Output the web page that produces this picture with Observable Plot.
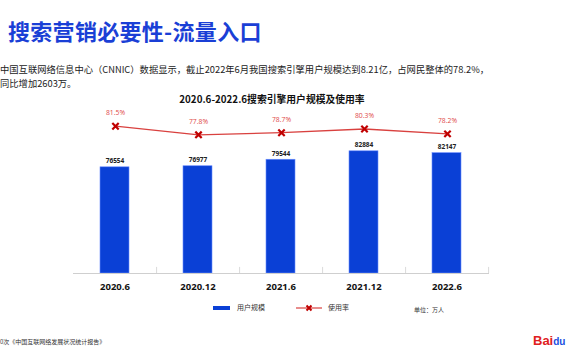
<!DOCTYPE html>
<html>
<head>
<meta charset="utf-8">
<script src="https://cdn.jsdelivr.net/npm/d3@7"></script>
<script src="https://cdn.jsdelivr.net/npm/@observablehq/plot@0.6"></script>
<style>
  html, body { margin: 0; padding: 0; background: #fff; }
  #wrap { position: relative; width: 570px; height: 360px; overflow: hidden; background: #fff;
          font-family: "Open Sans", "Noto Sans CJK SC", sans-serif; }
  .abs { position: absolute; white-space: nowrap; }
  #title { left: 8px; top: 14px; font-size: 22px; font-weight: bold; color: #1a3fd6;
           font-family: "Noto Sans CJK SC", sans-serif; letter-spacing: 0.3px; }
  #sub { left: 0px; top: 62px; font-size: 9.3px; line-height: 14px; color: #222;
         font-family: "Noto Sans CJK SC", sans-serif; }
  #ctitle { left: 0; width: 544px; text-align: center; top: 92px; font-size: 9.8px; font-weight: bold; color: #111;
            font-family: "Noto Sans CJK SC", sans-serif; }
  #caption { left: 0; top: 337px; font-size: 6px; color: #333; font-family: "Noto Sans CJK SC", sans-serif; }
  .leg { font-size: 7px; color: #333; font-family: "Noto Sans CJK SC", sans-serif; }
  #logo { left: 533px; top: 333px; font-family: "Liberation Sans", sans-serif; font-weight: bold; font-size: 13px; }
  svg.layer { position: absolute; left: 0; top: 0; max-width: none; }
</style>
</head>
<body>
<div id="wrap">
  <div id="chart"></div>
  <div id="title" class="abs">搜索营销必要性-流量入口</div>
  <div id="sub" class="abs">中国互联网络信息中心（CNNIC）数据显示，截止2022年6月我国搜索引擎用户规模达到8.21亿，占网民整体的78.2%，<br>同比增加2603万。</div>
  <div id="ctitle" class="abs">2020.6-2022.6搜索引擎用户规模及使用率</div>
  <div class="abs" style="left:213px; top:306px; width:17px; height:4px; background:#0a40d6;"></div>
  <div class="abs leg" style="left:237px; top:302px;">用户规模</div>
  <svg class="abs" style="left:296px; top:303px;" width="26" height="10">
    <line x1="0" y1="5" x2="26" y2="5" stroke="#d9413f" stroke-width="1.2"/>
    <path d="M10.5,2.5L15.5,7.5M15.5,2.5L10.5,7.5" stroke="#c00000" stroke-width="2"/>
  </svg>
  <div class="abs leg" style="left:328px; top:302px;">使用率</div>
  <div class="abs leg" style="left:414px; top:305px; font-size:6px;">单位：万人</div>
  <div id="caption" class="abs">0次《中国互联网络发展状况统计报告》</div>
  <div id="logo" class="abs"><span style="color:#e02020">Bai</span><span style="color:#1a4fe0; font-size:10px;">du</span></div>
</div>
<script>
const categories = ["2020.6", "2020.12", "2021.6", "2021.12", "2022.6"];
const users = [76554, 76977, 79544, 82884, 82147];
const rates = [81.5, 77.8, 78.7, 80.3, 78.2];
const rateLabels = ["81.5%", "77.8%", "78.7%", "80.3%", "78.2%"];

const data = categories.map((c, i) => ({cat: c, users: users[i], rate: rates[i], rateLabel: rateLabels[i]}));

const W = 570, H = 360;
const xOpts = {domain: categories, paddingInner: 0.65, paddingOuter: 0.325, align: 0.5};
const yBase = 34600;

const bars = Plot.plot({
  width: W, height: H,
  marginLeft: 73, marginRight: 81, marginTop: 109, marginBottom: 87,
  x: {...xOpts, label: null},
  y: {domain: [yBase, 99400], axis: null},
  style: {fontFamily: "'Open Sans', 'Noto Sans CJK SC', sans-serif", background: "transparent"},
  marks: [
    Plot.barY(data, {x: "cat", y1: yBase, y2: "users", fill: "#0a40d6", stroke: "#6a8cff", strokeWidth: 0.6}),
    Plot.ruleY([yBase], {stroke: "#cfcfcf", strokeWidth: 1}),
    Plot.ruleX(data, {x: "cat", dx: 41.6, y1: yBase, y2: yBase + 2400, stroke: "#cfcfcf", strokeWidth: 0.8}),
    Plot.text(data, {x: "cat", y: "users", text: d => String(d.users), dy: -6, fontSize: 6.5, fontWeight: "bold", fill: "#222"}),
    Plot.axisX({tickSize: 0, tickPadding: 10, fontSize: 9.5, fontWeight: "bold", fill: "#111", label: null})
  ]
});
bars.classList.add("layer");

const line = Plot.plot({
  width: W, height: H,
  marginLeft: 73, marginRight: 81, marginTop: 106, marginBottom: 207.6,
  x: {...xOpts, axis: null},
  y: {domain: [70, 90], axis: null},
  style: {fontFamily: "'Open Sans', 'Noto Sans CJK SC', sans-serif", background: "transparent"},
  marks: [
    Plot.line(data, {x: "cat", y: "rate", stroke: "#d9413f", strokeWidth: 1.3}),
    Plot.dot(data, {x: "cat", y: "rate", symbol: "times", r: 3, stroke: "#c00000", strokeWidth: 2.2}),
    Plot.text(data, {x: "cat", y: "rate", text: "rateLabel", dy: -13, fontSize: 6.8, fill: "#e04848"})
  ]
});
line.classList.add("layer");

const chart = document.getElementById("chart");
chart.appendChild(bars);
chart.appendChild(line);
</script>
</body>
</html>
